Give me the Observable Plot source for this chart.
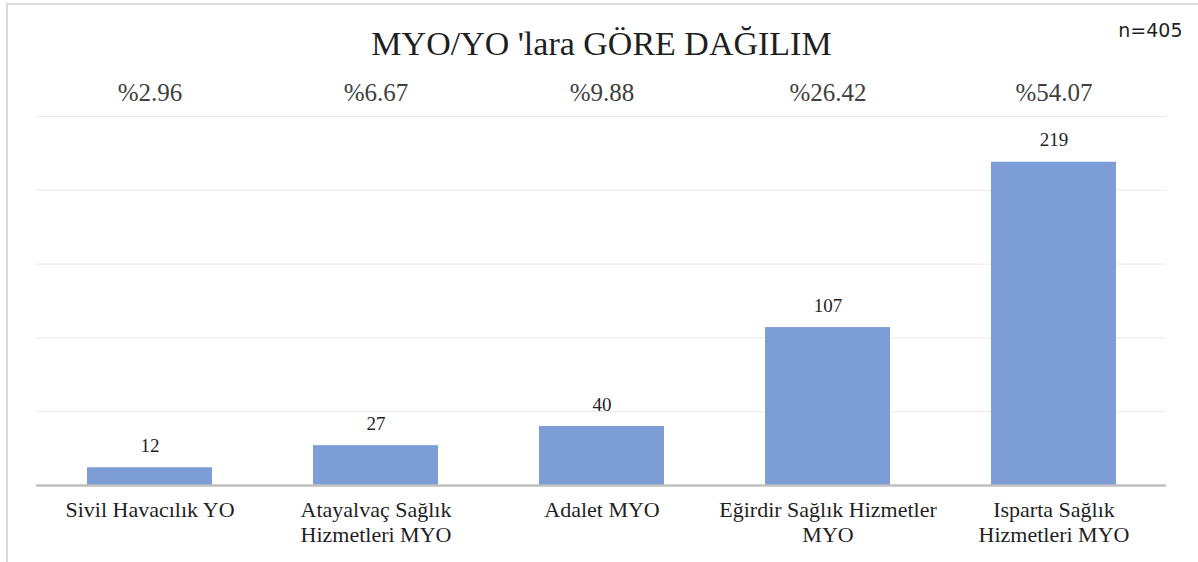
<!DOCTYPE html>
<html>
<head>
<meta charset="utf-8">
<script src="https://cdn.jsdelivr.net/npm/d3@7"></script>
<script src="https://cdn.jsdelivr.net/npm/@observablehq/plot@0.6"></script>
<style>
  html, body { margin: 0; padding: 0; background: #fff; overflow: hidden; width: 1198px; height: 562px; }
  #frame { position: absolute; left: 6px; top: 3px; width: 1400px; height: 900px; border: 2px solid #d9d9d9; box-sizing: border-box; }
  #chart { position: absolute; left: 0; top: 0; }
</style>
</head>
<body>
<div id="frame"></div>
<div id="chart"></div>
<script>
const title = "MYO/YO 'lara GÖRE DAĞILIM";
const sampleNote = "n=405";
const categories = ["Sivil Havacılık YO", "Atayalvaç Sağlık Hizmetleri MYO", "Adalet MYO", "Eğirdir Sağlık Hizmetler MYO", "Isparta Sağlık Hizmetleri MYO"];
const categoryLabels = ["Sivil Havacılık YO", "Atayalvaç Sağlık\nHizmetleri MYO", "Adalet MYO", "Eğirdir Sağlık Hizmetler\nMYO", "Isparta Sağlık\nHizmetleri MYO"];
const counts = [12, 27, 40, 107, 219];
const percents = ["%2.96", "%6.67", "%9.88", "%26.42", "%54.07"];
const gridTicks = [50, 100, 150, 200, 250];

const data = categories.map((name, i) => ({name, count: counts[i], pct: percents[i]}));

const chart = Plot.plot({
  width: 1198,
  height: 562,
  marginLeft: 36,
  marginRight: 32,
  marginTop: 116,
  marginBottom: 77,
  style: {fontFamily: "'Liberation Serif', 'Times New Roman', serif", background: "transparent", color: "#1f1f1f", overflow: "visible"},
  x: {domain: categories, paddingInner: 0.447, paddingOuter: 0.2235, label: null},
  y: {domain: [0, 250], axis: null},
  marks: [
    Plot.gridY(gridTicks, {stroke: "#e8e8e8", strokeOpacity: 1, strokeWidth: 1}),
    Plot.barY(data, {x: "name", y: "count", fill: "#7c9dd6"}),
    Plot.ruleY([0], {stroke: "#bfbfbf", strokeWidth: 2.5}),
    Plot.text(data, {x: "name", y: "count", text: d => String(d.count), dy: -22, fontSize: 19, fill: "#1f1f1f"}),
    Plot.axisX({tickSize: 0, tickPadding: 14, fontSize: 22, lineHeight: 1.14, fill: "#1f1f1f", label: null,
      tickFormat: d => categoryLabels[categories.indexOf(d)]}),
    Plot.text(data, {x: "name", text: "pct", frameAnchor: "top", lineAnchor: "middle", dy: -24, fontSize: 25, fill: "#404040"}),
    Plot.text([title], {frameAnchor: "top", lineAnchor: "middle", dy: -72, fontSize: 34, fill: "#1f1f1f"}),
    Plot.text([sampleNote], {frameAnchor: "top-right", lineAnchor: "middle", dx: 16, dy: -86, textAnchor: "end",
      fontFamily: "'DejaVu Sans', sans-serif", fontSize: 19, fill: "#1f1f1f"})
  ]
});
document.getElementById("chart").appendChild(chart);
</script>
</body>
</html>
